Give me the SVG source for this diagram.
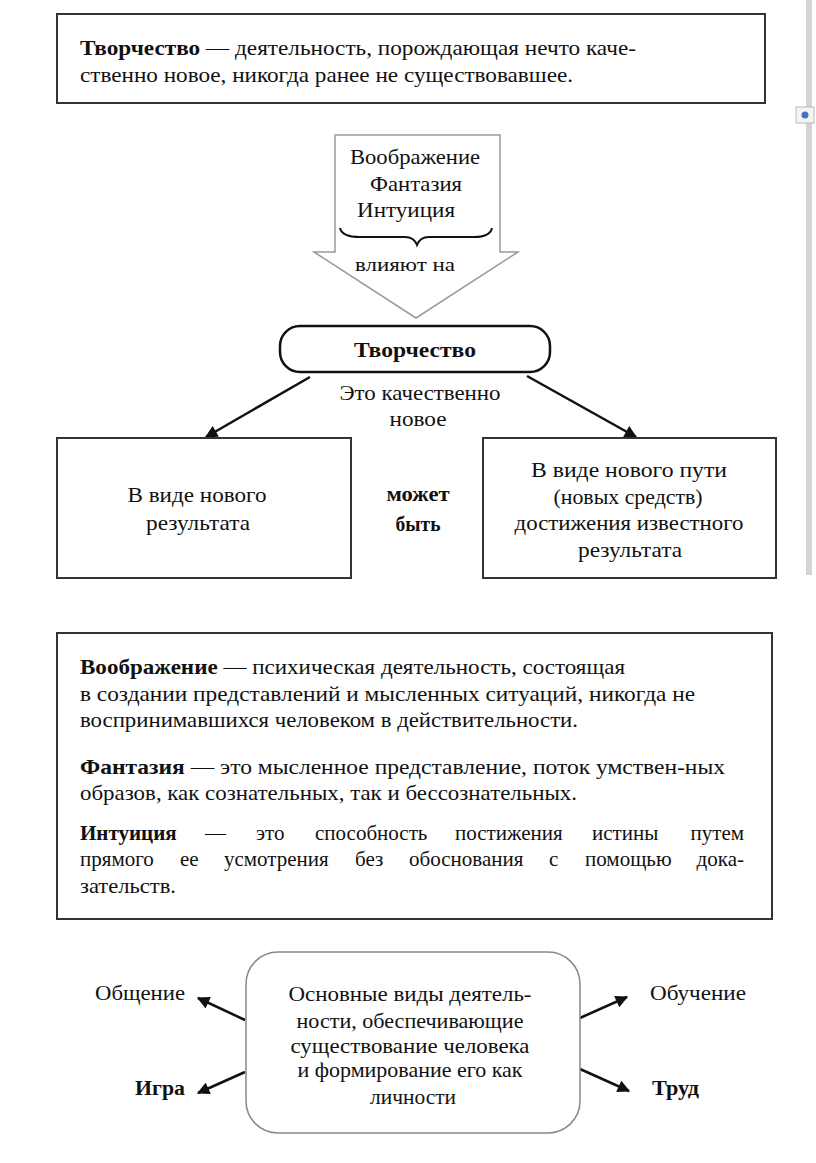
<svg xmlns="http://www.w3.org/2000/svg" width="816" height="1163" viewBox="0 0 816 1163">
<style>
.t{font-family:'Liberation Serif','Times New Roman',serif;font-size:21px;fill:#111}
.b{font-weight:bold}
.c{text-anchor:middle}
.e{text-anchor:end}
.box{fill:#fff;stroke:#333;stroke-width:2}
.conn{stroke:#111;stroke-width:2.5;fill:none}
</style>
<defs>
<marker id="ah" viewBox="0 0 10 10" refX="9" refY="5" markerWidth="5.5" markerHeight="5" orient="auto" markerUnits="strokeWidth">
<path d="M0,0 L10,5 L0,10 z" fill="#111"/>
</marker>
</defs>
<rect width="816" height="1163" fill="#fff"/>
<rect x="806" y="0" width="6" height="575" fill="#d4d4d4"/>
<g id="move-icon"><rect x="796" y="107" width="18" height="16" fill="#f4f4f4" stroke="#bbb" stroke-width="1"/><circle cx="805" cy="115" r="3.5" fill="#4a72c4"/></g>

<g id="def-creativity">
<rect class="box" x="57" y="14" width="708" height="89" stroke="#3a3a3a" stroke-width="2.5"/>
<text class="t" x="80" y="55" textLength="556" lengthAdjust="spacingAndGlyphs"><tspan class="b">Творчество</tspan> — деятельность, порождающая  нечто каче-</text>
<text class="t" x="80" y="82" textLength="493" lengthAdjust="spacingAndGlyphs">ственно новое, никогда ранее не существовавшее.</text>
</g>

<g id="block-arrow">
<path d="M335,135 L500,135 L500,252 L518,252 L416,318 L314,252 L335,252 Z" fill="#fff" stroke="#9a9a9a" stroke-width="1.5"/>
<text class="t c" x="415" y="164" textLength="130" lengthAdjust="spacingAndGlyphs">Воображение</text>
<text class="t c" x="416" y="191" textLength="92" lengthAdjust="spacingAndGlyphs">Фантазия</text>
<text class="t c" x="406" y="217" textLength="98" lengthAdjust="spacingAndGlyphs">Интуиция</text>
<path d="M340,228 Q342,237 360,237 L405,237 Q414,237 417,245 Q420,237 429,237 L474,237 Q490,237 492,228" fill="none" stroke="#111" stroke-width="2"/>
<text class="t c" style="font-size:18px" x="405" y="271" textLength="100" lengthAdjust="spacingAndGlyphs">влияют на</text>
</g>

<g id="creativity">
<rect x="280" y="326" width="270" height="46" rx="20" ry="20" fill="#fff" stroke="#111" stroke-width="2.5"/>
<text class="t b c" x="415" y="357" textLength="122" lengthAdjust="spacingAndGlyphs">Творчество</text>
</g>

<g id="note">
<text class="t c" x="420" y="400" textLength="161" lengthAdjust="spacingAndGlyphs">Это качественно</text>
<text class="t c" x="418" y="426" textLength="57" lengthAdjust="spacingAndGlyphs">новое</text>
</g>

<g id="connectors">
<line class="conn" x1="310" y1="377" x2="206" y2="437" marker-end="url(#ah)"/>
<line class="conn" x1="527" y1="376" x2="636" y2="437" marker-end="url(#ah)"/>
<line class="conn" x1="245" y1="1020" x2="198" y2="998" marker-end="url(#ah)"/>
<line class="conn" x1="245" y1="1072" x2="198" y2="1093" marker-end="url(#ah)"/>
<line class="conn" x1="580" y1="1018" x2="627" y2="997" marker-end="url(#ah)"/>
<line class="conn" x1="580" y1="1069" x2="629" y2="1091" marker-end="url(#ah)"/>
</g>

<g id="result-new">
<rect class="box" x="57" y="438" width="294" height="140" stroke="#222"/>
<text class="t c" x="197" y="502" textLength="139" lengthAdjust="spacingAndGlyphs">В виде нового</text>
<text class="t c" x="198" y="530" textLength="104" lengthAdjust="spacingAndGlyphs">результата</text>
</g>

<g id="maybe">
<text class="t b c" x="418" y="501" textLength="63" lengthAdjust="spacingAndGlyphs">может</text>
<text class="t b c" x="418" y="531" textLength="45" lengthAdjust="spacingAndGlyphs">быть</text>
</g>

<g id="result-path">
<rect class="box" x="483" y="438" width="293" height="140" stroke="#222"/>
<text class="t c" x="629" y="477" textLength="196" lengthAdjust="spacingAndGlyphs">В виде нового пути</text>
<text class="t c" x="628" y="504" textLength="149" lengthAdjust="spacingAndGlyphs">(новых средств)</text>
<text class="t c" x="629" y="530" textLength="229" lengthAdjust="spacingAndGlyphs">достижения  известного</text>
<text class="t c" x="630" y="557" textLength="104" lengthAdjust="spacingAndGlyphs">результата</text>
</g>

<g id="definitions">
<rect class="box" x="57" y="633" width="715" height="286" stroke="#3a3a3a" stroke-width="2.5"/>
<text class="t" x="80" y="674" textLength="545" lengthAdjust="spacingAndGlyphs"><tspan class="b">Воображение</tspan> — психическая  деятельность, состоящая</text>
<text class="t" x="80" y="701" textLength="615" lengthAdjust="spacingAndGlyphs">в  создании представлений  и мысленных ситуаций,  никогда не</text>
<text class="t" x="80" y="727" textLength="498" lengthAdjust="spacingAndGlyphs">воспринимавшихся  человеком в действительности.</text>
<text class="t" x="80" y="774" textLength="645" lengthAdjust="spacingAndGlyphs"><tspan class="b">Фантазия</tspan> — это мысленное представление,  поток умствен-ных</text>
<text class="t" x="80" y="800" textLength="497" lengthAdjust="spacingAndGlyphs">образов, как сознательных,  так и бессознательных.</text>
<g id="intuition-line1">
<text class="t b" x="80" y="840">Интуиция</text>
<text class="t" x="205" y="840">—</text>
<text class="t" x="256" y="840">это</text>
<text class="t" x="315" y="840">способность</text>
<text class="t" x="455" y="840">постижения</text>
<text class="t" x="592" y="840">истины</text>
<text class="t e" x="744" y="840">путем</text>
</g>
<g id="intuition-line2">
<text class="t" x="80" y="866">прямого</text>
<text class="t" x="180" y="866">ее</text>
<text class="t" x="224" y="866">усмотрения</text>
<text class="t" x="355" y="866">без</text>
<text class="t" x="409" y="866">обоснования</text>
<text class="t" x="549" y="866">с</text>
<text class="t" x="585" y="866">помощью</text>
<text class="t e" x="744" y="866">дока-</text>
</g>
<text class="t" x="80" y="893" textLength="96" lengthAdjust="spacingAndGlyphs">зательств.</text>
</g>

<g id="activities">
<rect x="246" y="952" width="334" height="181" rx="32" ry="32" fill="#fff" stroke="#888" stroke-width="1.5"/>
<text class="t c" x="410" y="1001" textLength="243" lengthAdjust="spacingAndGlyphs">Основные виды деятель-</text>
<text class="t c" x="410" y="1028" textLength="227" lengthAdjust="spacingAndGlyphs">ности, обеспечивающие</text>
<text class="t c" x="410" y="1053" textLength="239" lengthAdjust="spacingAndGlyphs">существование человека</text>
<text class="t c" x="410" y="1077" textLength="225" lengthAdjust="spacingAndGlyphs">и формирование его  как</text>
<text class="t c" x="413" y="1104" textLength="86" lengthAdjust="spacingAndGlyphs">личности</text>
</g>

<g id="communication"><text class="t" x="95" y="1000" textLength="90" lengthAdjust="spacingAndGlyphs">Общение</text></g>
<g id="play"><text class="t b" x="135" y="1095" textLength="50" lengthAdjust="spacingAndGlyphs">Игра</text></g>
<g id="learning"><text class="t" x="650" y="1000" textLength="96" lengthAdjust="spacingAndGlyphs">Обучение</text></g>
<g id="labor"><text class="t b" x="652" y="1095" textLength="47" lengthAdjust="spacingAndGlyphs">Труд</text></g>
</svg>
